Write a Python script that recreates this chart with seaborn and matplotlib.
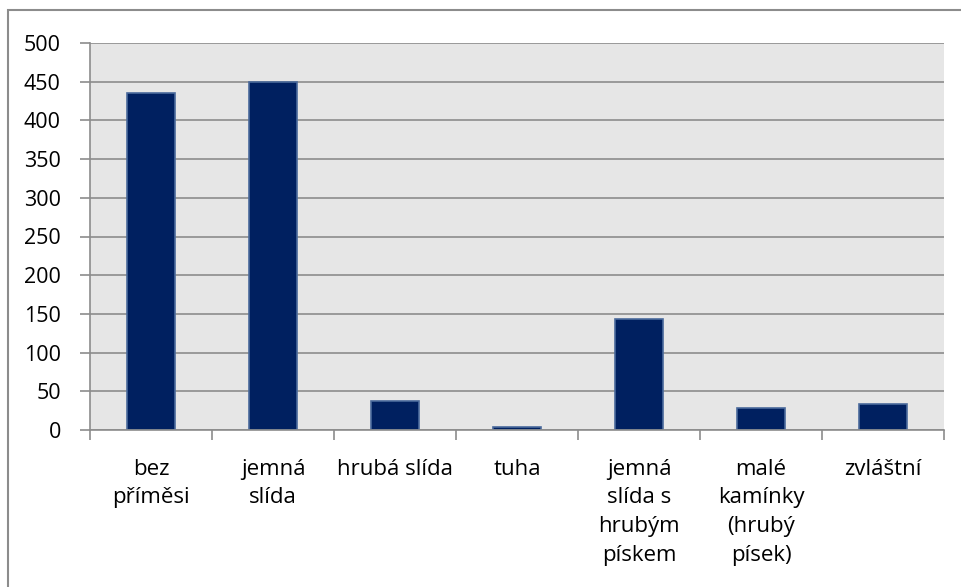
import seaborn as sns
import matplotlib.pyplot as plt
import pandas as pd
from matplotlib.patches import Rectangle

categories = ["bez\npříměsi", "jemná\nslída", "hrubá slída", "tuha",
              "jemná\nslída s\nhrubým\npískem", "malé\nkamínky\n(hrubý\npísek)",
              "zvláštní"]
counts = [436, 449, 37, 4, 143, 28, 33]
y_ticks = [0, 50, 100, 150, 200, 250, 300, 350, 400, 450, 500]

df = pd.DataFrame({"kategorie": categories, "pocet": counts})

sns.set_theme(style="white")
plt.rcParams["font.family"] = ["Open Sans", "DejaVu Sans"]

fig = plt.figure(figsize=(9.61, 5.87), dpi=100)
ax = fig.add_axes([90 / 961, 1 - 430 / 587, 854 / 961, 387 / 587])

sns.barplot(data=df, x="kategorie", y="pocet", color="#002060", width=0.4,
            edgecolor="#4a6a9c", linewidth=1.2, saturation=1, ax=ax)

ax.set_facecolor("#e6e6e6")
ax.set_ylim(0, 500)
ax.set_xlim(-0.5, len(categories) - 0.5)
ax.set_yticks(y_ticks)
ax.yaxis.grid(True, color="#8c8c8c", linewidth=1.2)
ax.set_axisbelow(True)
ax.set_xlabel("")
ax.set_ylabel("")

for s in ["top", "right"]:
    ax.spines[s].set_visible(False)
for s in ["left", "bottom"]:
    ax.spines[s].set_color("#8c8c8c")
    ax.spines[s].set_linewidth(1.2)

# ticks between categories on x, labels centred under bars
ax.set_xticks([i - 0.5 for i in range(len(categories) + 1)])
ax.set_xticklabels([])
ax.tick_params(axis="x", length=7, width=1.2, color="#8c8c8c", direction="out", bottom=True)
ax.tick_params(axis="y", length=7, width=1.2, color="#8c8c8c", direction="out",
               left=True, labelsize=15.5, pad=14, labelcolor="#000000")
for i, lab in enumerate(categories):
    ax.text(i, -37, lab, ha="center", va="top", fontsize=16, linespacing=1.48,
            color="#000000")

# outer chart frame
fig.patches.append(Rectangle((8 / 961, -0.01), 1.0, 1 - 10 / 587 + 0.01,
                             transform=fig.transFigure, fill=False,
                             edgecolor="#8c8c8c", linewidth=1.5))

fig.savefig("out.png", dpi=100)
